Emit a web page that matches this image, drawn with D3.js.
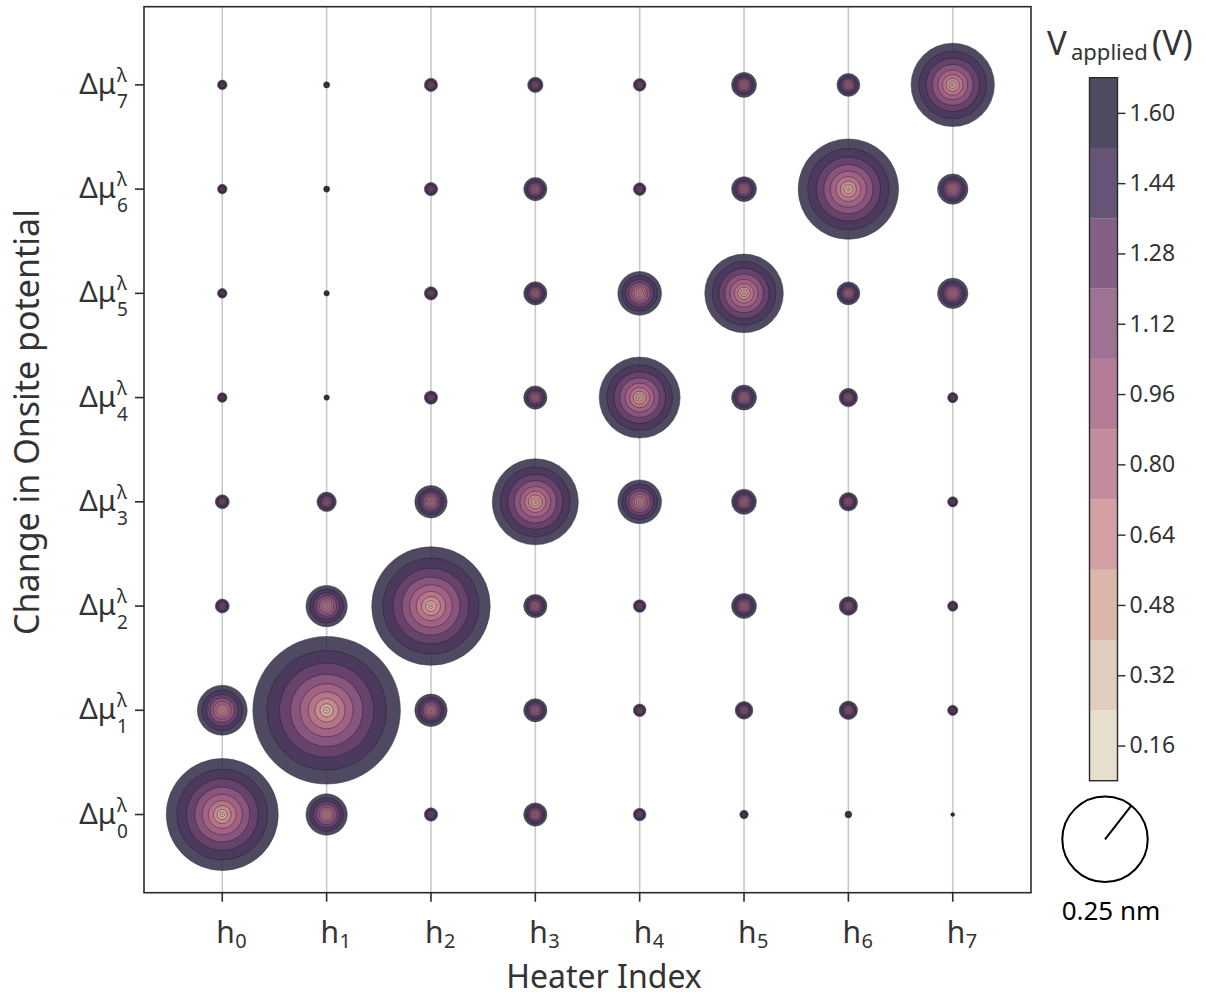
<!DOCTYPE html>
<html>
<head>
<meta charset="utf-8">
<script src="https://cdn.jsdelivr.net/npm/d3@7"></script>
<style>
  html, body { margin: 0; padding: 0; background: #fff; }
  svg { display: block; font-family: "Noto Sans", "Open Sans", sans-serif; }
</style>
</head>
<body>
<svg id="chart" width="1206" height="997"></svg>
<script>
// Heater columns and on-site potential rows
const heaters = [0, 1, 2, 3, 4, 5, 6, 7];
const potentials = [0, 1, 2, 3, 4, 5, 6, 7];

// Bubble radius (nm) for each heater, one array per Δμ row
const dmu0 = [0.328, 0.121, 0.039, 0.068, 0.037, 0.025, 0.020, 0.011];
const dmu1 = [0.146, 0.432, 0.095, 0.068, 0.037, 0.052, 0.054, 0.030];
const dmu2 = [0.041, 0.121, 0.347, 0.068, 0.037, 0.073, 0.054, 0.030];
const dmu3 = [0.041, 0.057, 0.095, 0.252, 0.128, 0.073, 0.054, 0.030];
const dmu4 = [0.028, 0.016, 0.039, 0.068, 0.237, 0.073, 0.054, 0.030];
const dmu5 = [0.028, 0.016, 0.039, 0.068, 0.128, 0.230, 0.067, 0.089];
const dmu6 = [0.028, 0.018, 0.039, 0.068, 0.037, 0.073, 0.294, 0.089];
const dmu7 = [0.028, 0.018, 0.039, 0.045, 0.037, 0.073, 0.067, 0.244];
const rows = [dmu0, dmu1, dmu2, dmu3, dmu4, dmu5, dmu6, dmu7];

// Applied-voltage levels (colorbar ticks) and band edges
const voltTicks = [0.16, 0.32, 0.48, 0.64, 0.80, 0.96, 1.12, 1.28, 1.44, 1.60];
const voltEdges = [0.08, 0.24, 0.40, 0.56, 0.72, 0.88, 1.04, 1.20, 1.36, 1.52, 1.68];
// Palette, low to high voltage
const voltColors = ["#e2d9c4", "#dcc4b1", "#d5aa9c", "#cb8f93", "#b8788b",
                    "#a76585", "#8d5980", "#6c456f", "#4b375e", "#312a46"];
const legendSize = 0.25; // nm

const ALPHA = 0.85;
const INK = "#333";
const svg = d3.select("#chart");

const plot = { left: 144, right: 1031, top: 6.7, bottom: 892.7 };
const x = d3.scaleLinear().domain([-0.75, 7.75]).range([plot.left, plot.right]);
const y = d3.scaleLinear().domain([-0.75, 7.75]).range([plot.bottom, plot.top]);
const r = d3.scaleLinear().domain([0, legendSize]).range([0, 42.7]);

// vertical grid lines
svg.append("g").selectAll("line").data(heaters).join("line")
  .attr("x1", d => x(d)).attr("x2", d => x(d))
  .attr("y1", plot.top).attr("y2", plot.bottom)
  .attr("stroke", "#c9c9c9").attr("stroke-width", 1.6);

// bubbles: nested rings, radius of ring k scales as (k/10)^2
const cells = [];
rows.forEach((vals, i) => vals.forEach((v, j) => cells.push({ row: potentials[i], col: heaters[j], v })));
const ringIdx = d3.range(voltColors.length).reverse();
const bubbles = svg.append("g").selectAll("g").data(cells).join("g")
  .attr("transform", d => `translate(${x(d.col)},${y(d.row)})`);
bubbles.selectAll("circle").data(d => ringIdx.map(k => ({ k, R: r(d.v) }))).join("circle")
  .attr("r", d => d.R * Math.pow((d.k + 1) / voltColors.length, 2))
  .attr("fill", d => voltColors[d.k])
  .attr("stroke", "#1e1a22")
  .attr("stroke-width", 0.5)
  .attr("opacity", ALPHA);

// frame
svg.append("rect")
  .attr("x", plot.left).attr("y", plot.top)
  .attr("width", plot.right - plot.left).attr("height", plot.bottom - plot.top)
  .attr("fill", "none").attr("stroke", "#2b2b2b").attr("stroke-width", 1.6);

// x ticks + labels (h with subscript index)
const xt = svg.append("g").selectAll("g").data(heaters).join("g")
  .attr("transform", d => `translate(${x(d)},0)`);
xt.append("line").attr("y1", plot.bottom).attr("y2", plot.bottom + 9)
  .attr("stroke", "#2b2b2b").attr("stroke-width", 1.6);
const xl = xt.append("text").attr("fill", INK);
xl.append("tspan").attr("x", -6).attr("y", 943).attr("font-size", 30).text("h");
xl.append("tspan").attr("x", 13).attr("y", 947.5).attr("font-size", 20).text(d => d);

// y ticks + labels (Δμ with superscript λ and subscript index)
const yt = svg.append("g").selectAll("g").data(potentials).join("g")
  .attr("transform", d => `translate(0,${y(d)})`);
yt.append("line").attr("x1", plot.left - 9).attr("x2", plot.left)
  .attr("stroke", "#2b2b2b").attr("stroke-width", 1.6);
const yl = yt.append("text").attr("fill", INK);
yl.append("tspan").attr("x", 116).attr("y", 9).attr("text-anchor", "end").attr("font-size", 29).text("Δμ");
yl.append("tspan").attr("x", 117).attr("y", -3).attr("font-size", 19).text("λ");
yl.append("tspan").attr("x", 117).attr("y", 23).attr("font-size", 19).text(d => d);

// axis titles
svg.append("text").attr("x", 604).attr("y", 988).attr("text-anchor", "middle")
  .attr("font-size", 32).attr("fill", INK).text("Heater Index");
svg.append("text").attr("transform", "translate(39,422) rotate(-90)").attr("text-anchor", "middle")
  .attr("font-size", 34).attr("fill", INK).text("Change in Onsite potential");

// colorbar
const cb = { x: 1089.5, w: 28, top: 77.7, bottom: 780.7 };
const cy = d3.scaleLinear().domain([voltEdges[0], voltEdges[voltEdges.length - 1]]).range([cb.bottom, cb.top]);
svg.append("g").selectAll("rect").data(voltColors).join("rect")
  .attr("x", cb.x).attr("width", cb.w)
  .attr("y", (c, i) => cy(voltEdges[i + 1]))
  .attr("height", (c, i) => cy(voltEdges[i]) - cy(voltEdges[i + 1]))
  .attr("fill", c => c).attr("opacity", ALPHA);
svg.append("rect").attr("x", cb.x).attr("y", cb.top).attr("width", cb.w).attr("height", cb.bottom - cb.top)
  .attr("fill", "none").attr("stroke", "#2b2b2b").attr("stroke-width", 1.4);
const cbAxis = d3.axisRight(cy).tickValues(voltTicks).tickFormat(d3.format(".2f")).tickSize(8).tickPadding(4);
const cbg = svg.append("g").attr("transform", `translate(${cb.x + cb.w},0)`).call(cbAxis);
cbg.select(".domain").remove();
cbg.selectAll(".tick line").attr("stroke", "#2b2b2b").attr("stroke-width", 1.4);
cbg.selectAll(".tick text").attr("font-size", 23).attr("fill", INK).attr("font-family", "Noto Sans");

// colorbar title: V_applied (V)
const ct = svg.append("text").attr("fill", INK);
ct.append("tspan").attr("x", 1047).attr("y", 55).attr("font-size", 33).text("V");
ct.append("tspan").attr("x", 1071).attr("y", 60).attr("font-size", 22).text("applied");
ct.append("tspan").attr("x", 1152).attr("y", 55).attr("font-size", 34).text("(V)");

// size legend
const lg = { cx: 1105, cy: 839.3 };
const ang = -52 * Math.PI / 180;
svg.append("circle").attr("cx", lg.cx).attr("cy", lg.cy).attr("r", r(legendSize))
  .attr("fill", "none").attr("stroke", "#000").attr("stroke-width", 2);
svg.append("line").attr("x1", lg.cx).attr("y1", lg.cy)
  .attr("x2", lg.cx + r(legendSize) * Math.cos(ang)).attr("y2", lg.cy + r(legendSize) * Math.sin(ang))
  .attr("stroke", "#000").attr("stroke-width", 2);
svg.append("text").attr("x", 1111).attr("y", 920).attr("text-anchor", "middle")
  .attr("font-size", 26).attr("fill", "#000").text(`${legendSize} nm`);
</script>
</body>
</html>
